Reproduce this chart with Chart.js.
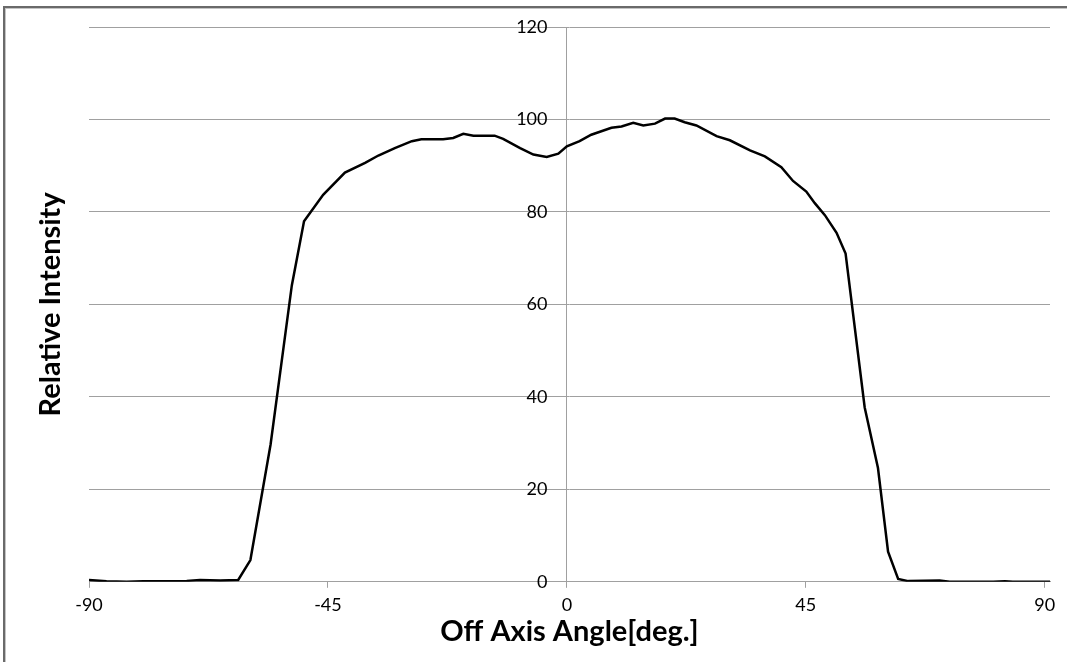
<!DOCTYPE html>
<html>
<head>
<meta charset="utf-8">
<script src="https://cdn.jsdelivr.net/npm/chart.js@4"></script>
<style>
    html, body { margin: 0; padding: 0; background: #fff; }
    #wrap { position: relative; width: 1067px; height: 662px; overflow: hidden; }
    #frame {
        position: absolute; left: 3px; top: 6px; width: 1100px; height: 700px;
        border-left: 2px solid #6a6a6a; border-top: 2px solid #6a6a6a;
        box-shadow: inset 1px 1px 0 #c4c4c4;
        pointer-events: none;
    }
</style>
</head>
<body>
<div id="wrap">
    <canvas id="intensityChart"></canvas>
    <div id="frame"></div>
</div>
<script>
// angle [deg]
const angles = [
    -90, -86.7, -82.9, -79.8, -71.6, -69.1, -65.3, -61.9, -59.6, -55.8,
    -51.8, -49.5, -45.9, -41.8, -38.0, -35.5, -32.4, -29.2, -27.4, -23.3,
    -21.4, -19.5, -17.6, -13.6, -12.0, -8.8, -6.3, -3.8, -1.6, 0.0,
    2.4, 4.6, 8.4, 10.3, 12.5, 14.4, 16.6, 18.5, 20.3, 22.2,
    24.4, 28.2, 30.7, 34.5, 37.3, 40.4, 42.6, 45.1, 46.7, 48.6,
    50.8, 52.5, 56.1, 58.6, 60.5, 62.4, 64.3, 70.2, 72.1, 78.4,
    80.3, 82.5, 84.0, 91
];

// relative intensity at each angle
const intensity = [
    0.4, 0.1, 0.0, 0.1, 0.2, 0.4, 0.3, 0.4, 4.7, 29.7,
    64.1, 78.0, 83.7, 88.5, 90.6, 92.2, 93.8, 95.3, 95.7, 95.7,
    96.0, 96.9, 96.5, 96.5, 95.8, 93.8, 92.4, 91.9, 92.6, 94.2,
    95.3, 96.7, 98.2, 98.5, 99.3, 98.7, 99.1, 100.2, 100.2, 99.4,
    98.7, 96.4, 95.5, 93.3, 92.0, 89.7, 86.7, 84.4, 81.9, 79.3,
    75.5, 71.0, 37.7, 24.6, 6.5, 0.6, 0.15, 0.3, 0.0, 0.0,
    0.0, 0.1, 0.0, 0.0
];

const xTickValues = [-90, -45, 0, 45, 90];
const yTickValues = [0, 20, 40, 60, 80, 100, 120];

const FONT = 'Lato, "Open Sans", sans-serif';
const GRID = '#a0a0a0';

const ctx = document.getElementById('intensityChart').getContext('2d');

new Chart(ctx, {
    type: 'line',
    data: {
        datasets: [{
            label: 'Relative Intensity',
            data: angles.map((a, i) => ({ x: a, y: intensity[i] })),
            borderColor: '#000',
            borderWidth: 2.5,
            pointRadius: 0,
            fill: false,
            tension: 0,
            yAxisID: 'y'
        }]
    },
    options: {
        responsive: true,
        maintainAspectRatio: false,
        animation: false,
        layout: {
            padding: { left: 0, top: 27, right: 17, bottom: 7.4 }
        },
        plugins: {
            legend: { display: false },
            tooltip: { enabled: false }
        },
        scales: {
            x: {
                type: 'linear',
                min: -90,
                max: 91,
                afterBuildTicks: axis => {
                    axis.ticks = xTickValues.map(v => ({ value: v }));
                },
                grid: {
                    // only the zero line is drawn across the plot
                    color: c => (c.tick && c.tick.value === 0) ? GRID : 'rgba(0,0,0,0)',
                    tickColor: GRID,
                    tickLength: 6
                },
                border: { color: GRID },
                ticks: {
                    color: '#000',
                    font: { family: FONT, size: 18 },
                    padding: 7,
                    maxRotation: 0,
                    autoSkip: false
                },
                title: {
                    display: true,
                    text: 'Off Axis Angle[deg.]',
                    color: '#000',
                    font: { family: FONT, size: 29, weight: 'bold' },
                    padding: { top: -8.8, bottom: 5.2 }
                }
            },
            y: {
                type: 'linear',
                position: 'center',
                min: 0,
                max: 120,
                afterBuildTicks: axis => {
                    axis.ticks = yTickValues.map(v => ({ value: v }));
                },
                // invisible tick marks keep the labels away from the zero line
                grid: { color: GRID, drawTicks: true, tickLength: 22, tickColor: 'rgba(0,0,0,0)' },
                border: { display: false },
                ticks: {
                    color: '#000',
                    font: { family: FONT, size: 18 },
                    padding: 0
                }
            },
            yTitle: {
                type: 'linear',
                position: 'left',
                min: 0,
                max: 120,
                grid: { display: false, drawTicks: false },
                border: { display: false },
                ticks: { display: false },
                title: {
                    display: true,
                    text: 'Relative Intensity',
                    color: '#000',
                    font: { family: FONT, size: 29, weight: 'bold' },
                    padding: { top: 33.6, bottom: 20.6 }
                }
            }
        }
    }
});
</script>
</body>
</html>
